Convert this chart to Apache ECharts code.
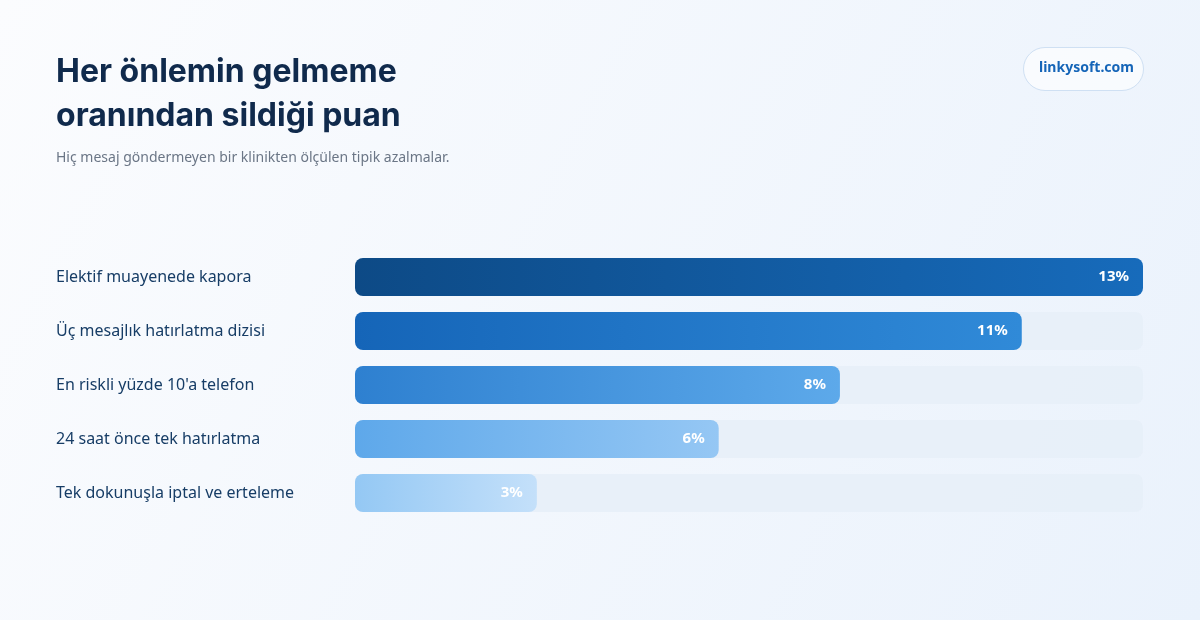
<!DOCTYPE html>
<html><head><meta charset="utf-8">
<script src="https://cdn.jsdelivr.net/npm/echarts@6/dist/echarts.min.js"></script>
<style>html,body{margin:0;padding:0;}#c{width:1200px;height:620px;}</style>
</head><body><div id="c"></div>
<script>
const categories = ["Elektif muayenede kapora","Üç mesajlık hatırlatma dizisi","En riskli yüzde 10'a telefon","24 saat önce tek hatırlatma","Tek dokunuşla iptal ve erteleme"];
const values = [13, 11, 8, 6, 3];
const gradients = [["#0d4a86","#176bbb"],["#1565b8","#308ad8"],["#2e80d0","#5da9ea"],["#5ea8ea","#95c7f4"],["#94c8f4","#c4e0fa"]];
const chart = echarts.init(document.getElementById('c'));
chart.setOption({
  backgroundColor: new echarts.graphic.LinearGradient(0,0,1,1,[{offset:0,color:'#fbfcfe'},{offset:1,color:'#eaf2fc'}]),
  graphic: [
    {type:'text',left:56,top:50,style:{text:'Her önlemin gelmeme\noranından sildiği puan',font:'bold 32px Inter, Lato, sans-serif',fill:'#102a4c',lineHeight:44}},
    {type:'text',left:56,top:151,style:{text:'Hiç mesaj göndermeyen bir klinikten ölçülen tipik azalmalar.',font:'14px "Noto Sans", sans-serif',fill:'#6b7686'}},
    {type:'rect',left:1023,top:47,shape:{width:120,height:43,r:22},style:{fill:'rgba(255,255,255,0.6)',stroke:'#cfe0f3',lineWidth:1}},
    {type:'text',left:1039,top:61,style:{text:'linkysoft.com',font:'bold 14px "Noto Sans", sans-serif',fill:'#1565b8'}}
  ],
  grid:{left:355,right:57,top:250,height:270},
  xAxis:{type:'value',min:0,max:13,show:false},
  yAxis:{type:'category',inverse:true,data:categories,axisLine:{show:false},axisTick:{show:false},
    axisLabel:{align:'left',margin:299,fontSize:16,color:'#173d66',fontFamily:'"Noto Sans", sans-serif'}},
  series:[{type:'bar',barWidth:38,showBackground:true,
    backgroundStyle:{color:'#e6eef8',borderRadius:8,opacity:0.85},
    data: values.map((v,i)=>({value:v,itemStyle:{borderRadius:8,color:new echarts.graphic.LinearGradient(0,0,1,0,[{offset:0,color:gradients[i][0]},{offset:1,color:gradients[i][1]}])}})),
    label:{show:true,position:'insideRight',distance:14,formatter:'{c}%',color:'#fff',fontWeight:'bold',fontSize:15,fontFamily:'"Noto Sans", sans-serif'}
  }]
});
</script></body></html>
